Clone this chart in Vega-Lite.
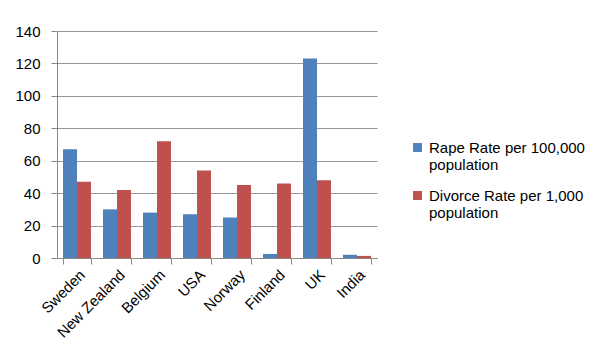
{
  "$schema": "https://vega.github.io/schema/vega-lite/v6.json",
  "width": 320,
  "height": 227,
  "padding": {"left": 14, "top": 24, "right": 5, "bottom": 5},
  "background": "white",
  "data": {
    "values": [
      {"country": "Sweden", "series": "Rape Rate per 100,000 population", "value": 67},
      {"country": "Sweden", "series": "Divorce Rate per 1,000 population", "value": 47},
      {"country": "New Zealand", "series": "Rape Rate per 100,000 population", "value": 30},
      {"country": "New Zealand", "series": "Divorce Rate per 1,000 population", "value": 42},
      {"country": "Belgium", "series": "Rape Rate per 100,000 population", "value": 28},
      {"country": "Belgium", "series": "Divorce Rate per 1,000 population", "value": 72},
      {"country": "USA", "series": "Rape Rate per 100,000 population", "value": 27},
      {"country": "USA", "series": "Divorce Rate per 1,000 population", "value": 54},
      {"country": "Norway", "series": "Rape Rate per 100,000 population", "value": 25},
      {"country": "Norway", "series": "Divorce Rate per 1,000 population", "value": 45},
      {"country": "Finland", "series": "Rape Rate per 100,000 population", "value": 2.5},
      {"country": "Finland", "series": "Divorce Rate per 1,000 population", "value": 46},
      {"country": "UK", "series": "Rape Rate per 100,000 population", "value": 123},
      {"country": "UK", "series": "Divorce Rate per 1,000 population", "value": 48},
      {"country": "India", "series": "Rape Rate per 100,000 population", "value": 2},
      {"country": "India", "series": "Divorce Rate per 1,000 population", "value": 1.3}
    ]
  },
  "mark": {"type": "bar"},
  "encoding": {
    "x": {
      "field": "country",
      "type": "nominal",
      "sort": null,
      "title": null,
      "scale": {"paddingInner": 0.3, "paddingOuter": 0.15},
      "axis": {
        "labelAngle": -45,
        "labelAlign": "right",
        "labelBaseline": "top",
        "labelFontSize": 15,
        "labelFont": "Liberation Sans",
        "labelColor": "#000000",
        "tickBand": "extent",
        "tickColor": "#888888",
        "domainColor": "#888888",
        "tickSize": 6,
        "labelPadding": 3
      }
    },
    "xOffset": {"field": "series", "type": "nominal", "sort": null},
    "y": {
      "field": "value",
      "type": "quantitative",
      "title": null,
      "scale": {"domain": [0, 140], "nice": false},
      "axis": {
        "values": [0, 20, 40, 60, 80, 100, 120, 140],
        "labelFontSize": 15,
        "labelFont": "Liberation Sans",
        "labelColor": "#000000",
        "gridColor": "#999999",
        "gridWidth": 1.2,
        "tickColor": "#888888",
        "domainColor": "#888888",
        "tickSize": 6,
        "labelPadding": 11
      }
    },
    "color": {
      "field": "series",
      "type": "nominal",
      "sort": null,
      "scale": {
        "domain": ["Rape Rate per 100,000 population", "Divorce Rate per 1,000 population"],
        "range": ["#4F81BD", "#C0504D"]
      },
      "legend": {
        "title": null,
        "orient": "none",
        "legendX": 353,
        "legendY": 109,
        "symbolType": "square",
        "symbolSize": 80,
        "symbolStrokeWidth": 0,
        "labelFontSize": 15,
        "labelFont": "Liberation Sans",
        "labelColor": "#000000",
        "labelLimit": 300,
        "rowPadding": 15,
        "labelExpr": "datum.label == 'Rape Rate per 100,000 population' ? ['Rape Rate per 100,000', 'population'] : ['Divorce Rate per 1,000', 'population']"
      }
    }
  },
  "config": {
    "view": {"stroke": null}
  }
}
